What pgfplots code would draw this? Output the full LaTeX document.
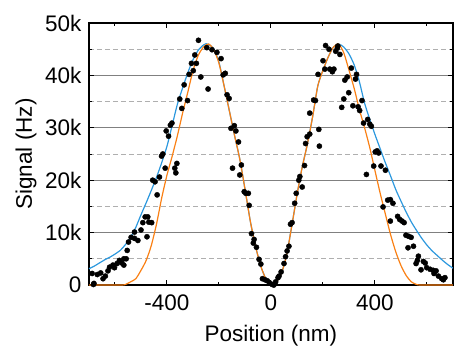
\documentclass[border=0pt]{standalone}
\usepackage{pgfplots}
\pgfplotsset{compat=1.18}
\usepackage{fontspec}
\setmainfont{Liberation Sans}

\definecolor{fitorange}{RGB}{250,128,20}
\definecolor{fitblue}{RGB}{44,152,222}
\definecolor{gridsolid}{RGB}{128,128,128}
\definecolor{griddash}{RGB}{175,175,175}

% measured count rate across the donut profile
\pgfplotstableread{
x y
-683 100
-681 300
-688 2200
-668 2000
-655 2300
-646 1200
-637 1700
-627 2700
-621 3400
-608 3800
-602 3300
-592 4100
-583 4700
-574 4200
-566 5000
-566 3800
-557 5000
-553 6600
-548 8200
-538 9100
-525 8900
-525 10100
-512 8500
-500 10500
-493 11900
-484 13000
-474 13000
-477 9200
-470 12000
-459 11900
-455 20000
-446 19700
-438 17200
-429 20600
-421 24600
-416 25000
-407 22300
-370 22300
-362 23200
-366 21400
-403 29400
-394 28400
-387 30500
-381 30900
-351 35500
-343 33700
-334 38200
-321 35200
-315 40200
-306 42300
-299 40900
-293 43900
-287 42300
-279 46700
-270 39700
-247 45300
-242 37400
-227 44900
-208 44400
-192 43200
-184 40100
-176 40400
-169 36300
-161 35600
-154 29900
-141 30400
-135 29400
-125 27300
-148 22300
-114 22900
-120 21000
-103 17800
-97 17500
-87 17500
-84 15200
-75 9800
-65 8700
-68 8000
-56 7200
-46 4900
-39 4000
-33 1200
-23 1000
-14 800
-5 400
5 100
11 0
18 600
27 1400
31 1700
39 2500
50 4100
56 5400
62 6500
69 7400
75 11600
81 11900
91 15600
97 17500
107 20000
111 20700
120 18700
129 22800
133 27000
139 28300
149 28800
149 32800
164 35300
171 35200
181 40200
184 29700
186 26500
200 42800
207 41200
210 45700
223 45000
226 41200
236 40700
242 41200
249 44600
255 45200
257 45600
265 44000
272 33900
280 35500
284 39100
293 39700
299 36700
309 41400
315 34200
325 39300
329 40200
335 34000
341 33300
350 35200
356 30900
372 31600
380 30700
386 30300
401 25400
408 25600
414 25200
395 22700
423 22700
440 21900
367 21100
431 14900
449 16200
459 16300
469 15600
459 12200
487 13100
495 12500
504 12200
512 11900
519 9500
529 9300
539 9100
527 7100
548 7400
567 5500
563 4700
558 4100
586 4500
593 4200
577 2900
599 3300
612 3000
624 2800
635 2700
627 2200
644 1700
657 1200
669 1400
663 1000
}\measured

% narrow model profile
\pgfplotstableread{
x y
-700 0
-580 0
-560 100
-540 600
-520 1200
-500 2800
-480 4700
-460 7600
-440 11700
-420 16700
-400 21000
-380 24600
-360 28500
-340 32800
-320 36800
-300 40900
-280 43800
-260 45400
-240 46000
-220 44900
-200 42300
-180 37900
-160 33200
-140 28500
-120 24000
-100 18300
-80 12300
-60 7500
-40 3700
-20 1200
0 50
20 500
40 2200
60 5700
80 11300
100 17200
120 22500
140 26900
160 32100
180 38000
200 41000
220 43500
240 45400
260 46000
280 44300
300 41000
320 37500
340 33500
360 30000
380 26200
400 21800
420 17500
440 13500
460 9600
480 6300
500 3700
520 1800
540 600
560 100
580 0
700 0
}\narrowfit

% wide model profile
\pgfplotstableread{
x y
-700 3100
-680 3600
-660 4200
-640 4800
-620 5300
-600 5900
-580 6600
-560 7700
-540 9100
-520 11000
-500 13400
-480 15700
-460 18100
-440 20600
-420 23400
-400 26500
-380 30500
-360 34500
-340 37600
-320 40500
-300 43000
-280 44800
-260 45800
-250 46050
-240 45900
-220 45100
-200 42500
-180 37900
-160 33200
-140 28500
-120 24000
-100 18300
-80 12300
-60 7500
-40 3700
-20 1200
0 50
20 500
40 2200
60 5700
80 11300
100 17200
120 22500
140 26900
160 32100
180 38000
200 41000
220 43500
240 45400
260 46000
280 45400
300 44100
320 42000
340 38800
360 34700
380 31600
400 28700
420 26000
440 23300
460 20800
480 18200
500 16000
520 13900
540 12000
560 10400
580 8900
600 7600
620 6500
640 5600
660 4700
680 3900
700 3200
}\widefit

\begin{document}
\fontsize{22.5bp}{27bp}\selectfont
\begin{tikzpicture}
\begin{axis}[
  name=ax,
  scale only axis,
  width=364bp, height=262bp,
  xmin=-700, xmax=700,
  ymin=0, ymax=50000,
  xtick={-400,0,400},
  xticklabels={-400,0,400},
  minor xtick={-600,-200,200,600},
  ytick={0,10000,20000,30000,40000,50000},
  yticklabels={0,10k,20k,30k,40k,50k},
  minor ytick={5000,15000,25000,35000,45000},
  scaled ticks=false,
  tick align=inside,
  major tick length=5bp,
  minor tick length=3bp,
  tick style={black, line width=1bp},
  axis line style={black, line width=1.4bp},
  ymajorgrids, yminorgrids,
  major grid style={gridsolid, line width=1.3bp},
  minor grid style={griddash, line width=0.8bp, dash pattern=on 5bp off 3bp},
  xticklabel style={yshift=-2bp},
  every axis x label/.style={at={(axis description cs:0.5,-0.2164)}, anchor=base},
  every axis y label/.style={at={(axis description cs:-0.1566,0.5)}, rotate=90, anchor=base},
  xlabel={Position (nm)},
  ylabel={Signal (Hz)},
  clip=true,
]
\addplot[fitblue, line width=1.2bp, smooth, tension=0.4] table[x=x, y=y] {\widefit};
\addplot[fitorange, line width=1.2bp, smooth, tension=0.4] table[x=x, y=y] {\narrowfit};
\addplot[only marks, mark=*, mark size=2.6bp, black] table[x=x, y=y] {\measured};
\end{axis}
\pgfresetboundingbox
\path (ax.south west) ++(-89bp,-70bp) rectangle ++(473bp,355bp);
\end{tikzpicture}
\end{document}
